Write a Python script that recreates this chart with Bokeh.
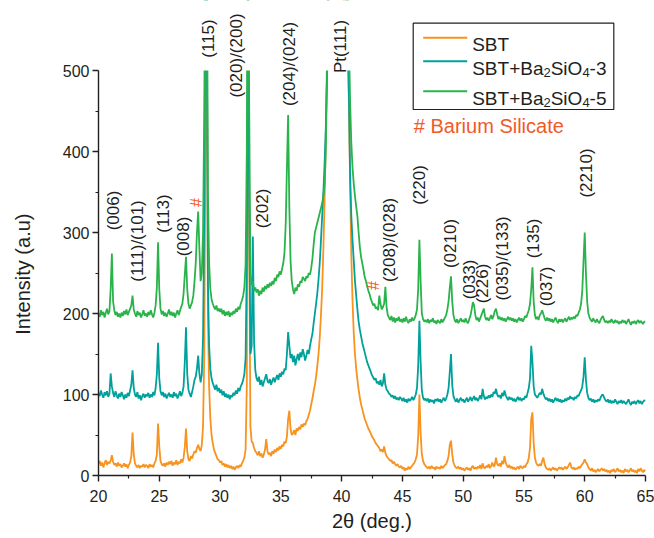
import numpy as np
from bokeh.plotting import figure
from bokeh.models import FixedTicker, Range1d
from bokeh.core.properties import value
from bokeh.embed import file_html
from bokeh.resources import INLINE

# ---------------- data (2theta grid: 20.0 .. 65.0, step 0.1 deg) ----------------
sbt = [
    14, 18, 12, 16, 10, 15, 19, 13, 17, 15,
    18, 25, 17, 13, 15, 11, 16, 12, 14, 10,
    12, 15, 11, 14, 9, 13, 16, 24, 53, 26,
    15, 12, 10, 13, 9, 12, 11, 14, 10, 13,
    12, 9, 14, 11, 13, 10, 15, 18, 26, 64,
    36, 18, 14, 12, 15, 11, 16, 13, 17, 14,
    18, 12, 16, 14, 19, 13, 17, 15, 20, 16,
    22, 35, 58, 30, 20, 18, 24, 21, 26, 30,
    28, 34, 38, 33, 30, 38, 60, 150, 420, 620,
    200, 110, 70, 50, 40, 32, 28, 24, 20, 19,
    16, 18, 13, 15, 11, 14, 10, 13, 9, 12,
    8, 11, 7, 10, 12, 9, 13, 11, 15, 18,
    22, 32, 110, 620, 280, 60, 42, 40, 34, 30,
    28, 25, 30, 24, 27, 22, 26, 32, 45, 30,
    26, 28, 24, 30, 27, 32, 29, 34, 31, 36,
    33, 38, 36, 42, 40, 48, 70, 80, 58, 50,
    52, 56, 50, 58, 55, 60, 57, 63, 60, 64,
    62, 67, 70, 75, 80, 88, 95, 104, 112, 122,
    135, 150, 170, 198, 230, 280, 340, 420, 520, 640,
    760, 900, 1000, 1080, 1100, 1080, 1020, 930, 820, 700,
    640, 600, 580, 590, 570, 530, 460, 360, 270, 215,
    175, 150, 132, 118, 106, 96, 88, 82, 76, 70,
    66, 62, 58, 55, 52, 48, 46, 43, 40, 38,
    36, 34, 30, 32, 29, 36, 28, 24, 22, 20,
    18, 19, 15, 17, 14, 12, 14, 11, 10, 12,
    8, 10, 6, 9, 7, 11, 8, 10, 12, 14,
    16, 20, 26, 48, 100, 52, 26, 18, 14, 12,
    10, 9, 11, 8, 12, 9, 10, 7, 11, 9,
    10, 8, 12, 9, 11, 13, 14, 18, 24, 38,
    43, 26, 16, 12, 10, 9, 11, 8, 10, 7,
    9, 6, 8, 10, 7, 9, 6, 10, 12, 8,
    10, 8, 11, 9, 13, 8, 15, 10, 9, 12,
    10, 14, 9, 12, 16, 11, 13, 22, 14, 12,
    15, 11, 18, 14, 24, 16, 12, 10, 13, 9,
    11, 8, 10, 7, 9, 11, 8, 12, 10, 9,
    12, 10, 14, 16, 22, 34, 70, 78, 40, 22,
    16, 13, 12, 14, 12, 18, 22, 14, 10, 8,
    7, 9, 6, 8, 10, 7, 9, 6, 8, 10,
    8, 10, 7, 9, 11, 8, 10, 13, 16, 10,
    8, 10, 7, 9, 8, 11, 9, 12, 14, 16,
    20, 16, 14, 10, 8, 6, 9, 5, 7, 4,
    6, 8, 5, 7, 9, 6, 8, 5, 7, 4,
    6, 3, 7, 5, 8, 4, 6, 9, 5, 7,
    4, 6, 3, 8, 5, 7, 4, 6, 9, 5,
    7, 4, 6, 3, 8, 5, 9, 6, 4, 7,
    5,
]

sbt_bs3 = [
    102, 98, 105, 100, 96, 103, 99, 104, 97, 101,
    126, 110, 102, 97, 104, 99, 95, 101, 97, 103,
    99, 94, 100, 96, 102, 98, 105, 112, 130, 108,
    100, 97, 103, 95, 99, 93, 98, 101, 96, 100,
    98, 102, 96, 100, 97, 103, 99, 108, 125, 164,
    120, 104, 99, 103, 97, 101, 95, 99, 102, 97,
    100, 96, 103, 98, 101, 95, 99, 104, 98, 102,
    110, 140, 183, 125, 106, 101, 97, 103, 110, 118,
    122, 132, 148, 126, 115, 125, 170, 320, 620, 600,
    240, 160, 132, 120, 114, 110, 106, 112, 104, 108,
    102, 106, 99, 104, 97, 101, 96, 100, 94, 99,
    97, 102, 99, 105, 101, 108, 104, 110, 113, 118,
    125, 145, 260, 620, 330, 150, 160, 295, 165, 130,
    120, 116, 122, 112, 118, 110, 115, 120, 125, 117,
    114, 119, 112, 117, 121, 115, 120, 124, 118, 126,
    122, 128, 125, 132, 130, 150, 177, 160, 145, 150,
    140, 148, 136, 144, 150, 142, 152, 146, 156, 150,
    142, 148, 155, 150, 160, 168, 175, 188, 200, 212,
    225, 242, 262, 290, 320, 350, 385, 430, 490, 560,
    640, 700, 780, 850, 900, 920, 900, 860, 800, 740,
    680, 640, 620, 600, 600, 560, 470, 370, 320, 290,
    265, 240, 222, 205, 190, 180, 172, 164, 158, 152,
    146, 140, 136, 132, 128, 124, 121, 118, 120, 114,
    116, 112, 118, 110, 114, 126, 112, 106, 104, 101,
    100, 97, 99, 95, 98, 94, 96, 93, 97, 95,
    92, 96, 91, 94, 90, 95, 92, 94, 97, 93,
    96, 100, 108, 135, 191, 140, 105, 96, 93, 95,
    92, 95, 90, 94, 91, 93, 89, 94, 92, 95,
    91, 94, 90, 93, 96, 92, 95, 100, 108, 128,
    150, 112, 98, 94, 91, 95, 90, 93, 96, 92,
    94, 90, 93, 96, 91, 94, 97, 92, 95, 98,
    93, 96, 92, 95, 99, 94, 107, 98, 94, 97,
    95, 99, 96, 100, 97, 103, 101, 107, 100, 97,
    99, 95, 102, 98, 105, 99, 96, 93, 97, 94,
    96, 92, 95, 91, 94, 97, 93, 96, 92, 95,
    94, 98, 96, 102, 108, 120, 160, 140, 110, 100,
    98, 96, 99, 102, 100, 107, 101, 97, 94, 96,
    92, 95, 91, 94, 90, 93, 96, 92, 95, 91,
    94, 90, 93, 91, 95, 92, 96, 94, 98, 95,
    96, 93, 97, 95, 99, 98, 102, 105, 110, 122,
    146, 118, 102, 96, 93, 95, 91, 94, 90, 93,
    91, 94, 92, 96, 99, 100, 96, 93, 91, 94,
    90, 93, 89, 92, 90, 94, 91, 88, 92, 90,
    93, 89, 92, 90, 88, 91, 94, 90, 87, 91,
    89, 92, 88, 91, 93, 89, 92, 88, 91, 93,
    92,
]

sbt_bs5 = [
    200, 196, 204, 198, 202, 195, 201, 206, 199, 203,
    230, 274, 215, 204, 198, 202, 196, 200, 195, 201,
    197, 203, 199, 205, 198, 202, 206, 210, 222, 205,
    200, 196, 203, 198, 201, 195, 199, 204, 197, 200,
    196, 202, 198, 204, 199, 195, 201, 210, 232, 288,
    230, 206, 199, 203, 197, 201, 196, 200, 205, 198,
    202, 197, 201, 195, 200, 204, 198, 203, 208, 212,
    225, 248, 270, 230, 212, 206, 210, 214, 222, 240,
    262, 300, 326, 280, 240, 250, 300, 450, 700, 760,
    350, 262, 230, 218, 212, 208, 205, 210, 203, 206,
    202, 206, 199, 204, 197, 202, 198, 203, 196, 201,
    198, 203, 200, 206, 202, 208, 205, 212, 216, 222,
    232, 260, 400, 700, 450, 250, 235, 240, 228, 232,
    226, 230, 222, 228, 224, 232, 227, 234, 230, 236,
    232, 238, 234, 240, 236, 244, 240, 248, 245, 252,
    248, 255, 262, 275, 310, 380, 445, 330, 265, 240,
    230, 224, 232, 228, 236, 233, 240, 238, 245, 243,
    240, 246, 244, 250, 248, 256, 268, 285, 300, 306,
    312, 318, 324, 330, 336, 345, 360, 400, 500, 620,
    760, 880, 960, 1020, 1050, 1040, 1000, 940, 860, 780,
    720, 680, 650, 640, 640, 610, 540, 460, 410, 380,
    360, 345, 332, 320, 300, 282, 270, 262, 254, 245,
    240, 234, 228, 224, 218, 214, 210, 212, 206, 208,
    204, 222, 212, 205, 208, 212, 233, 208, 198, 195,
    192, 197, 190, 195, 189, 194, 191, 196, 190, 193,
    189, 194, 190, 196, 191, 188, 193, 190, 195, 191,
    194, 198, 205, 230, 291, 240, 200, 193, 190, 192,
    189, 193, 188, 192, 190, 194, 189, 191, 187, 192,
    190, 188, 193, 189, 192, 195, 198, 205, 215, 232,
    246, 215, 198, 192, 189, 193, 188, 191, 194, 190,
    192, 189, 194, 190, 188, 193, 197, 205, 214, 210,
    198, 192, 195, 190, 194, 198, 202, 206, 196, 192,
    195, 191, 194, 198, 193, 197, 203, 206, 199, 193,
    196, 192, 195, 191, 194, 190, 193, 196, 192, 195,
    191, 194, 190, 193, 189, 192, 195, 191, 194, 190,
    193, 197, 195, 200, 204, 212, 230, 257, 215, 198,
    193, 196, 192, 198, 200, 204, 199, 194, 191, 195,
    191, 194, 190, 193, 189, 192, 195, 191, 188, 193,
    190, 193, 189, 192, 194, 190, 193, 196, 192, 195,
    193, 196, 194, 198, 197, 201, 205, 212, 228, 265,
    300, 250, 215, 200, 195, 192, 190, 194, 191, 189,
    193, 190, 188, 192, 195, 197, 192, 189, 191, 188,
    191, 189, 193, 190, 188, 192, 189, 191, 187, 190,
    188, 192, 189, 191, 187, 190, 193, 189, 186, 190,
    188, 191, 187, 190, 192, 188, 191, 189, 187, 190,
    190,
]

series_names = ["SBT", "SBT+Ba2SiO4-3", "SBT+Ba2SiO4-5"]
x_ticks = [20, 25, 30, 35, 40, 45, 50, 55, 60, 65]
y_ticks = [0, 100, 200, 300, 400, 500]

peak_labels = ["(006)", "(111)/(101)", "(113)", "(008)", "(115)", "(020)/(200)",
               "(202)", "(204)/(024)", "Pt(111)", "(208)/(028)", "(220)", "(0210)",
               "(033)", "(226)", "(035)/(133)", "(135)", "(037)", "(2210)"]
silicate_marks = ["#", "#"]

# ---------------- layout helpers (page pixels == canvas pixels) ----------------
W, H = 654, 538
LEFT, RIGHT, TOP, BOTTOM = 98, 9, 0, 63
FRAME_H = H - TOP - BOTTOM          # 475 px
FRAME_W = W - LEFT - RIGHT          # 547 px
PX_PER_UNIT_Y = 405.0 / 500.0
Y_END = FRAME_H / PX_PER_UNIT_Y
X0_PX, Y0_PX = LEFT, TOP + FRAME_H  # canvas pixel of (20, 0)


def px2x(px):
    return 20 + (px - X0_PX) * 45.0 / FRAME_W


def py2y(py):
    return (Y0_PX - py) / PX_PER_UNIT_Y


INK = "#231F20"
ORANGE = "#F7931E"
TEAL = "#00A19A"
GREEN = "#2BB34B"
RED = "#F05A28"
FONT = "Liberation Sans"

p = figure(width=W, height=H, output_backend="svg", toolbar_location=None,
           x_range=Range1d(20, 65), y_range=Range1d(0, Y_END),
           min_border_left=LEFT, min_border_right=RIGHT,
           min_border_top=TOP, min_border_bottom=BOTTOM)
p.outline_line_color = None
p.grid.visible = False

n = len(sbt)
two_theta = np.round(20.0 + 0.1 * np.arange(n), 1)

for ys, col in [(sbt, ORANGE), (sbt_bs3, TEAL), (sbt_bs5, GREEN)]:
    p.line(two_theta[:len(ys)], ys[:n], line_color=col, line_width=1.8)

# hide everything above 500 (top of the axis)
p.quad(left=[20], right=[65], bottom=[500], top=[Y_END + 50],
       fill_color="white", line_color=None)

# axes
p.xaxis.ticker = FixedTicker(ticks=x_ticks,
                             minor_ticks=[t + 2.5 for t in x_ticks[:-1]])
p.yaxis.ticker = FixedTicker(ticks=y_ticks,
                             minor_ticks=[t + 50 for t in y_ticks[:-1]])
p.yaxis.bounds = (0, 500)
for ax in (p.xaxis, p.yaxis):
    ax.axis_line_color = INK
    ax.axis_line_width = 1.4
    ax.major_tick_line_color = INK
    ax.minor_tick_line_color = INK
    ax.major_tick_line_width = 1.4
    ax.minor_tick_line_width = 1.2
    ax.major_tick_in = 0
    ax.major_tick_out = 6
    ax.minor_tick_in = 0
    ax.minor_tick_out = 3
    ax.major_label_text_font = FONT
    ax.major_label_text_font_size = "16px"
    ax.major_label_text_color = INK
    ax.axis_label_text_font = FONT
    ax.axis_label_text_font_style = "normal"
    ax.axis_label_text_color = INK
    ax.axis_label_text_font_size = "20px"
p.xaxis.axis_label = "2θ (deg.)"
p.xaxis.major_label_standoff = 8
p.xaxis.axis_label_standoff = 5
# trailing no-break spaces move the visible title down so that it is centred
# on the 0-500 axis (as in the original) rather than on the taller frame
p.yaxis.axis_label = "Intensity (a.u)" + "\u00a0" * 13
p.yaxis.major_label_standoff = 3
p.yaxis.axis_label_standoff = 26

# peak labels (rotated, canvas-pixel centres)
label_centres = [(112.5, 210), (136.5, 240.5), (162.5, 213), (183, 236),
                 (207.5, 38), (235.5, 55), (261.5, 208), (289, 63.5),
                 (340, 46), (388.5, 239.5), (419, 184.5), (450, 243),
                 (469, 279), (482, 283), (501.5, 258), (532.5, 238),
                 (545.5, 286), (585.5, 172.5)]
p.text(x=[px2x(c[0]) for c in label_centres],
       y=[py2y(c[1]) for c in label_centres],
       text=peak_labels, angle=np.pi / 2,
       text_align="center", text_baseline="middle",
       text_font=value(FONT), text_font_size="17px", text_color=INK)

hash_centres = [(196, 202), (373, 285)]
p.text(x=[px2x(c[0]) for c in hash_centres],
       y=[py2y(c[1]) for c in hash_centres],
       text=silicate_marks, angle=np.pi / 2,
       text_align="center", text_baseline="middle",
       text_font=value(FONT), text_font_size="16px", text_color=RED)

# legend box
p.quad(left=[px2x(412.7)], right=[px2x(613.3)],
       bottom=[py2y(109)], top=[py2y(22.7)],
       fill_color="white", line_color=INK, line_width=1.2)
for py, col in [(37.3, ORANGE), (60.7, TEAL), (90.7, GREEN)]:
    p.line([px2x(422.7), px2x(466.7)], [py2y(py), py2y(py)],
           line_color=col, line_width=2)

tx0 = 471.7
pieces = [  # text, x offset px, baseline canvas y, font size
    ("SBT", 0, 44, "19px"),
    ("SBT+Ba", 0, 67.5, "19px"), ("2", 71.3, 72, "13px"), ("SiO", 78.5, 67.5, "19px"),
    ("4", 110.2, 72, "13px"), ("-3", 117.4, 67.5, "19px"),
    ("SBT+Ba", 0, 97.5, "19px"), ("2", 71.3, 102, "13px"), ("SiO", 78.5, 97.5, "19px"),
    ("4", 110.2, 102, "13px"), ("-5", 117.4, 97.5, "19px"),
]
for t, dx, by, fs in pieces:
    p.text(x=[px2x(tx0 + dx)], y=[py2y(by)], text=[t],
           text_align="left", text_baseline="alphabetic",
           text_font=value(FONT), text_font_size=fs, text_color=INK)

p.text(x=[px2x(413.3)], y=[py2y(125)], text=["# Barium Silicate"],
       text_align="left", text_baseline="alphabetic",
       text_font=value(FONT), text_font_size="20px", text_color=RED)

open("out.html", "w").write(file_html(p, INLINE))
